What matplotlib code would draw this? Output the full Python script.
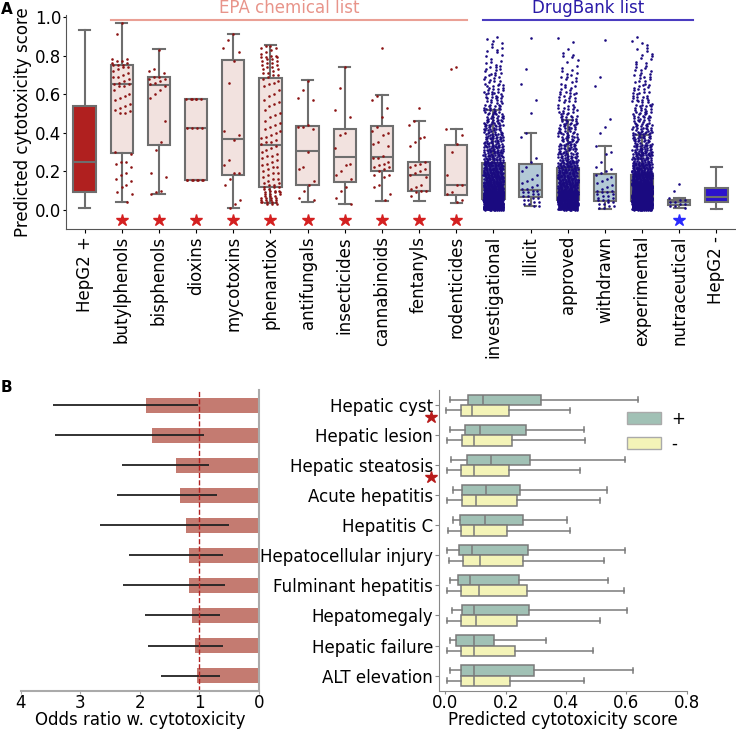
import numpy as np
import matplotlib.pyplot as plt
from matplotlib.patches import Patch

plt.rcParams['font.family'] = ['DejaVu Sans']
plt.rcParams['font.size'] = 12

# ---- panel A: predicted cytotoxicity per compound list ----
groups = ['HepG2 +', 'butylphenols', 'bisphenols', 'dioxins', 'mycotoxins',
          'phenantiox', 'antifungals', 'insecticides', 'cannabinoids',
          'fentanyls', 'rodenticides', 'investigational', 'illicit',
          'approved', 'withdrawn', 'experimental', 'nutraceutical', 'HepG2 -']
a_whislo = [0.012, 0.043, 0.081, 0.156, 0.009, 0.035, 0.043, 0.031, 0.047,
            0.047, 0.035, 0.005, 0.021, 0.005, 0.005, 0.005, 0.012, 0.003]
a_q1 = [0.092, 0.295, 0.338, 0.156, 0.178, 0.116, 0.127, 0.144, 0.201,
        0.100, 0.076, 0.055, 0.066, 0.052, 0.047, 0.047, 0.026, 0.040]
a_med = [0.246, 0.653, 0.645, 0.423, 0.367, 0.338, 0.303, 0.274, 0.276,
         0.178, 0.128, 0.107, 0.102, 0.100, 0.090, 0.100, 0.040, 0.068]
a_q3 = [0.540, 0.749, 0.690, 0.577, 0.778, 0.685, 0.433, 0.419, 0.433,
        0.248, 0.336, 0.241, 0.237, 0.217, 0.185, 0.182, 0.052, 0.111]
a_whishi = [0.930, 0.970, 0.832, 0.577, 0.912, 0.853, 0.672, 0.740, 0.593,
            0.459, 0.419, 0.520, 0.400, 0.464, 0.331, 0.388, 0.061, 0.220]
list_kind = ['pos'] + ['epa'] * 10 + ['db'] * 6 + ['neg']
significant = [False] + [True] * 10 + [False] * 5 + [True, False]

# individual compound scores (sparse groups)
pts_butylphenols = [0.97, 0.91, 0.78, 0.78, 0.77, 0.77, 0.76, 0.76, 0.75, 0.75, 0.75,
                    0.74, 0.74, 0.73, 0.72, 0.71, 0.70, 0.69, 0.69, 0.68, 0.67, 0.66,
                    0.65, 0.65, 0.64, 0.64, 0.62, 0.60, 0.59, 0.58, 0.57, 0.55, 0.54,
                    0.53, 0.52, 0.51, 0.50, 0.50, 0.30, 0.29, 0.25, 0.25, 0.24, 0.22,
                    0.19, 0.18, 0.16, 0.15, 0.13, 0.12, 0.09, 0.08, 0.04]
pts_bisphenols = [0.83, 0.73, 0.72, 0.71, 0.69, 0.69, 0.68, 0.68, 0.67, 0.66, 0.65,
                  0.64, 0.62, 0.60, 0.58, 0.46, 0.35, 0.31, 0.19, 0.17, 0.10, 0.09, 0.08]
pts_dioxins = [0.577] * 6 + [0.423] * 4 + [0.156] * 8
pts_mycotoxins = [0.91, 0.88, 0.84, 0.82, 0.77, 0.66, 0.41, 0.39, 0.36, 0.26, 0.23,
                  0.19, 0.19, 0.16, 0.13, 0.05, 0.03, 0.01]
pts_phenantiox = [0.85, 0.85, 0.84, 0.84, 0.83, 0.82, 0.81, 0.80, 0.80, 0.79, 0.79,
                  0.79, 0.78, 0.78, 0.77, 0.77, 0.76, 0.76, 0.75, 0.75, 0.74, 0.74,
                  0.73, 0.73, 0.72, 0.71, 0.71, 0.70, 0.70, 0.69,
                  0.68, 0.67, 0.66, 0.65, 0.64, 0.62, 0.60, 0.59, 0.57, 0.56, 0.55,
                  0.54, 0.52, 0.50, 0.49, 0.48, 0.46, 0.45, 0.44, 0.43, 0.42, 0.41,
                  0.40, 0.39, 0.38, 0.37, 0.36, 0.35, 0.35, 0.34,
                  0.33, 0.32, 0.31, 0.30, 0.29, 0.28, 0.28, 0.27, 0.26, 0.25, 0.24,
                  0.23, 0.22, 0.22, 0.21, 0.20, 0.19, 0.19, 0.18, 0.17, 0.16, 0.16,
                  0.15, 0.14, 0.14, 0.13, 0.13, 0.12, 0.12, 0.12,
                  0.11, 0.11, 0.10, 0.10, 0.10, 0.09, 0.09, 0.09, 0.08, 0.08, 0.08,
                  0.07, 0.07, 0.07, 0.06, 0.06, 0.06, 0.06, 0.05, 0.05, 0.05, 0.05,
                  0.04, 0.04, 0.04, 0.04, 0.04, 0.03, 0.03, 0.03]
pts_antifungals = [0.67, 0.62, 0.58, 0.57, 0.44, 0.43, 0.43, 0.42, 0.30, 0.22, 0.21,
                   0.15, 0.13, 0.10, 0.06, 0.05]
pts_insecticides = [0.74, 0.63, 0.52, 0.48, 0.40, 0.39, 0.32, 0.24, 0.23, 0.20, 0.18,
                    0.16, 0.12, 0.10, 0.06, 0.03]
pts_cannabinoids = [0.84, 0.59, 0.57, 0.53, 0.48, 0.43, 0.41, 0.40, 0.39, 0.35, 0.34,
                    0.33, 0.28, 0.27, 0.27, 0.25, 0.24, 0.23, 0.22, 0.22, 0.21, 0.20,
                    0.18, 0.18, 0.17, 0.13, 0.12, 0.08, 0.05]
pts_fentanyls = [0.53, 0.46, 0.44, 0.38, 0.37, 0.35, 0.33, 0.25, 0.24, 0.23, 0.22,
                 0.21, 0.20, 0.19, 0.18, 0.17, 0.13, 0.12, 0.11, 0.10, 0.10, 0.09, 0.07]
pts_rodenticides = [0.74, 0.73, 0.42, 0.39, 0.34, 0.30, 0.18, 0.13, 0.13, 0.09, 0.08,
                    0.05, 0.04]
pts_illicit = [0.89, 0.73, 0.65, 0.57, 0.50, 0.40, 0.38, 0.27, 0.25, 0.22, 0.20, 0.18,
               0.16, 0.15, 0.14, 0.13, 0.12, 0.11, 0.11, 0.10, 0.10, 0.09, 0.09, 0.08,
               0.08, 0.07, 0.07, 0.06, 0.06, 0.05, 0.05, 0.04, 0.04, 0.03, 0.03, 0.02, 0.02]
pts_withdrawn = [0.88, 0.69, 0.64, 0.47, 0.43, 0.40, 0.33, 0.30, 0.29, 0.25, 0.22,
                 0.21, 0.20, 0.19, 0.18, 0.17, 0.16, 0.15, 0.14, 0.13, 0.12, 0.11, 0.10,
                 0.10, 0.09, 0.09, 0.08, 0.08, 0.07, 0.07, 0.06, 0.06, 0.05, 0.05, 0.05,
                 0.04, 0.04, 0.03, 0.03, 0.02, 0.02, 0.01, 0.01]
pts_nutraceutical = [0.135, 0.10, 0.06, 0.05, 0.05, 0.04, 0.04, 0.03, 0.03, 0.02, 0.02, 0.01]

# dense DrugBank groups: number of compounds per 0.05-wide score bin (0.00 .. 0.90)
bin_width = 0.05
hist_investigational = [230, 230, 120, 95, 75, 45, 40, 35, 30, 25, 20, 18, 15, 12, 10, 6, 6, 5]
hist_approved = [160, 160, 90, 70, 55, 35, 30, 25, 20, 18, 14, 12, 10, 8, 6, 4, 3, 2]
hist_experimental = [300, 300, 170, 110, 70, 45, 35, 30, 25, 20, 18, 15, 12, 10, 8, 6, 5, 4]

G1, G2 = 0.7548776662, 0.5698402910  # R2 low-discrepancy constants for spreading marks


def spread(n, half=0.27, start=0):
    return ((0.5 + (np.arange(n) + start) * G1) % 1 - 0.5) * 2 * half


def from_hist(counts):
    # place each bin's compounds evenly (low-discrepancy) inside the bin
    ys, xs, start = [], [], 0
    for k, n in enumerate(counts):
        idx = np.arange(n) + start
        ys.extend(k * bin_width + ((0.5 + idx * G2) % 1) * bin_width)
        xs.extend(spread(n, start=start))
        start += n
    return np.array(ys), np.array(xs)


strip_points = {
    'butylphenols': pts_butylphenols, 'bisphenols': pts_bisphenols,
    'dioxins': pts_dioxins, 'mycotoxins': pts_mycotoxins,
    'phenantiox': pts_phenantiox, 'antifungals': pts_antifungals,
    'insecticides': pts_insecticides, 'cannabinoids': pts_cannabinoids,
    'fentanyls': pts_fentanyls, 'rodenticides': pts_rodenticides,
    'investigational': hist_investigational, 'illicit': pts_illicit,
    'approved': hist_approved, 'withdrawn': pts_withdrawn,
    'experimental': hist_experimental, 'nutraceutical': pts_nutraceutical,
}
binned = {'investigational', 'approved', 'experimental'}

# ---- panel B: liver outcomes ----
outcomes = ['Hepatic cyst', 'Hepatic lesion', 'Hepatic steatosis', 'Acute hepatitis',
            'Hepatitis C', 'Hepatocellular injury', 'Fulminant hepatitis',
            'Hepatomegaly', 'Hepatic failure', 'ALT elevation']
odds = [1.90, 1.79, 1.40, 1.32, 1.22, 1.17, 1.17, 1.12, 1.07, 1.04]
ci_lo = [1.03, 0.92, 0.84, 0.71, 0.51, 0.61, 0.57, 0.65, 0.60, 0.66]
ci_hi = [3.46, 3.42, 2.30, 2.38, 2.67, 2.18, 2.29, 1.91, 1.87, 1.64]
outcome_sig = [True, False, True, False, False, False, False, False, False, False]

p_whislo = [0.014, 0.017, 0.020, 0.025, 0.024, 0.004, 0.014, 0.022, 0.014, 0.014]
p_q1 = [0.076, 0.064, 0.072, 0.055, 0.049, 0.045, 0.043, 0.055, 0.036, 0.051]
p_med = [0.125, 0.116, 0.152, 0.135, 0.130, 0.087, 0.083, 0.094, 0.094, 0.094]
p_q3 = [0.317, 0.268, 0.282, 0.249, 0.256, 0.275, 0.243, 0.276, 0.162, 0.295]
p_whishi = [0.640, 0.461, 0.597, 0.537, 0.403, 0.597, 0.538, 0.601, 0.332, 0.623]

n_whislo = [0.003, 0.004, 0.004, 0.004, 0.010, 0.013, 0.004, 0.004, 0.004, 0.004]
n_q1 = [0.052, 0.055, 0.052, 0.054, 0.052, 0.058, 0.052, 0.052, 0.052, 0.052]
n_med = [0.089, 0.095, 0.094, 0.100, 0.094, 0.116, 0.110, 0.100, 0.095, 0.094]
n_q3 = [0.210, 0.220, 0.211, 0.238, 0.203, 0.256, 0.270, 0.237, 0.230, 0.215]
n_whishi = [0.414, 0.463, 0.445, 0.511, 0.414, 0.527, 0.593, 0.511, 0.491, 0.460]

fill = {'pos': '#b0201f', 'epa': '#f2e2df', 'db': '#b3c9d6', 'neg': '#2b12cc'}
dot = {'epa': '#8b1414', 'db': '#1a0a80'}
edge = '#6e6e6e'


def stats(lo, a, m, b, hi):
    return [dict(whislo=w, q1=x, med=y, q3=z, whishi=h)
            for w, x, y, z, h in zip(lo, a, m, b, hi)]


fig = plt.figure(figsize=(7.36, 7.32), dpi=100)

# ----- A -----
axA = fig.add_axes([0.0897, 0.687, 0.909, 0.2925])
line_props = dict(color=edge, linewidth=1.5)
bp = axA.bxp(stats(a_whislo, a_q1, a_med, a_q3, a_whishi), positions=range(len(groups)),
             widths=0.6, capwidths=0.3, patch_artist=True, showfliers=False,
             boxprops=dict(edgecolor=edge, linewidth=1.5), whiskerprops=line_props,
             capprops=line_props, medianprops=line_props)
for patch, kind in zip(bp['boxes'], list_kind):
    patch.set_facecolor(fill[kind])

for i, g in enumerate(groups):
    if g in strip_points:
        if g in binned:
            y, dx = from_hist(strip_points[g])
        else:
            y = np.asarray(strip_points[g])
            dx = spread(len(y))
        axA.scatter(i + dx, y, s=3.5, color=dot[list_kind[i]], linewidths=0, zorder=4)
    if significant[i]:
        star_col = '#d42020' if list_kind[i] == 'epa' else '#2a2aff'
        axA.plot(i, -0.052, marker='*', markersize=9, color=star_col, linestyle='none')

axA.plot([0.7, 10.3], [0.983, 0.983], color='#eaa095', linewidth=1.5, clip_on=False)
axA.text(5.5, 1.045, 'EPA chemical list', color='#e8948a', ha='center', va='center')
axA.plot([10.72, 16.37], [0.983, 0.983], color='#4a3cc0', linewidth=1.5, clip_on=False)
axA.text(13.55, 1.045, 'DrugBank list', color='#2a1aa8', ha='center', va='center')

axA.set_xlim(-0.5, 17.5)
axA.set_ylim(-0.1, 1.01)
axA.set_xticks(range(len(groups)))
axA.set_xticklabels(groups, rotation=90)
axA.set_yticks([0.0, 0.2, 0.4, 0.6, 0.8, 1.0])
axA.tick_params(axis='y', length=2, pad=1.5)
axA.tick_params(axis='x', length=3, pad=2)
axA.set_ylabel('Predicted cytotoxicity score', labelpad=2)
for s in ['top', 'right']:
    axA.spines[s].set_visible(False)
for s in ['left', 'bottom']:
    axA.spines[s].set_color('#555555')

# ----- B left: odds ratios -----
axL = fig.add_axes([0.0285, 0.0565, 0.3234, 0.4107])
rows = np.arange(len(outcomes))
axL.barh(rows, odds, height=0.5, color='#c47b71')
axL.hlines(rows, ci_lo, ci_hi, color='#222222', linewidth=1.3)
axL.axvline(1, color='#b22222', linestyle='--', linewidth=1)
axL.set_xlim(4, 0)
axL.set_ylim(9.5, -0.5)
axL.set_yticks([])
axL.set_xticks([4, 3, 2, 1, 0])
axL.tick_params(axis='x', length=2, pad=0.5, color='#aaaaaa')
axL.set_xlabel('Odds ratio w. cytotoxicity', labelpad=-1)
for s in ['top', 'left']:
    axL.spines[s].set_visible(False)
for s in ['right', 'bottom']:
    axL.spines[s].set_color('#aaaaaa')
    axL.spines[s].set_linewidth(1.5)

# ----- B right: score distributions -----
axR = fig.add_axes([0.5969, 0.0565, 0.3361, 0.4107])
lp = dict(color='#7a7a7a', linewidth=1.1)
for st, offset, col in [(stats(p_whislo, p_q1, p_med, p_q3, p_whishi), -0.175, '#a1c1b5'),
                        (stats(n_whislo, n_q1, n_med, n_q3, n_whishi), 0.175, '#f4f4b8')]:
    axR.bxp(st, positions=rows + offset, widths=0.35, capwidths=0.17,
            orientation='horizontal', patch_artist=True, showfliers=False,
            boxprops=dict(edgecolor='#7a7a7a', linewidth=1.1, facecolor=col),
            whiskerprops=lp, capprops=lp, medianprops=lp, manage_ticks=False)
for r, sig in zip(rows, outcome_sig):
    if sig:
        axR.plot(-0.049, r + 0.39, marker='*', markersize=9, color='#b81c1c',
                 linestyle='none', clip_on=False)
axR.set_xlim(-0.02, 0.8)
axR.set_ylim(9.5, -0.5)
axR.set_yticks(rows)
axR.set_yticklabels(outcomes)
axR.set_xticks([0.0, 0.2, 0.4, 0.6, 0.8])
axR.tick_params(axis='x', length=2, pad=0.5, color='#888888')
axR.tick_params(axis='y', length=3, pad=1.5, color='#888888')
axR.set_xlabel('Predicted cytotoxicity score', labelpad=-1)
for s in ['top', 'right']:
    axR.spines[s].set_visible(False)
for s in ['left', 'bottom']:
    axR.spines[s].set_color('#888888')
axR.legend(handles=[Patch(facecolor='#a1c1b5', edgecolor='#aaaaaa', label='+'),
                    Patch(facecolor='#f4f4b8', edgecolor='#aaaaaa', label='-')],
           loc='upper left', bbox_to_anchor=(0.70, 0.985), frameon=False,
           handlelength=2.0, handleheight=0.7, labelspacing=0.45, handletextpad=0.6)

fig.text(0.001, 0.987, 'A', fontsize=11, fontweight='bold', va='center')
fig.text(0.001, 0.470, 'B', fontsize=11, fontweight='bold', va='center')

fig.savefig('out.png', dpi=100)
